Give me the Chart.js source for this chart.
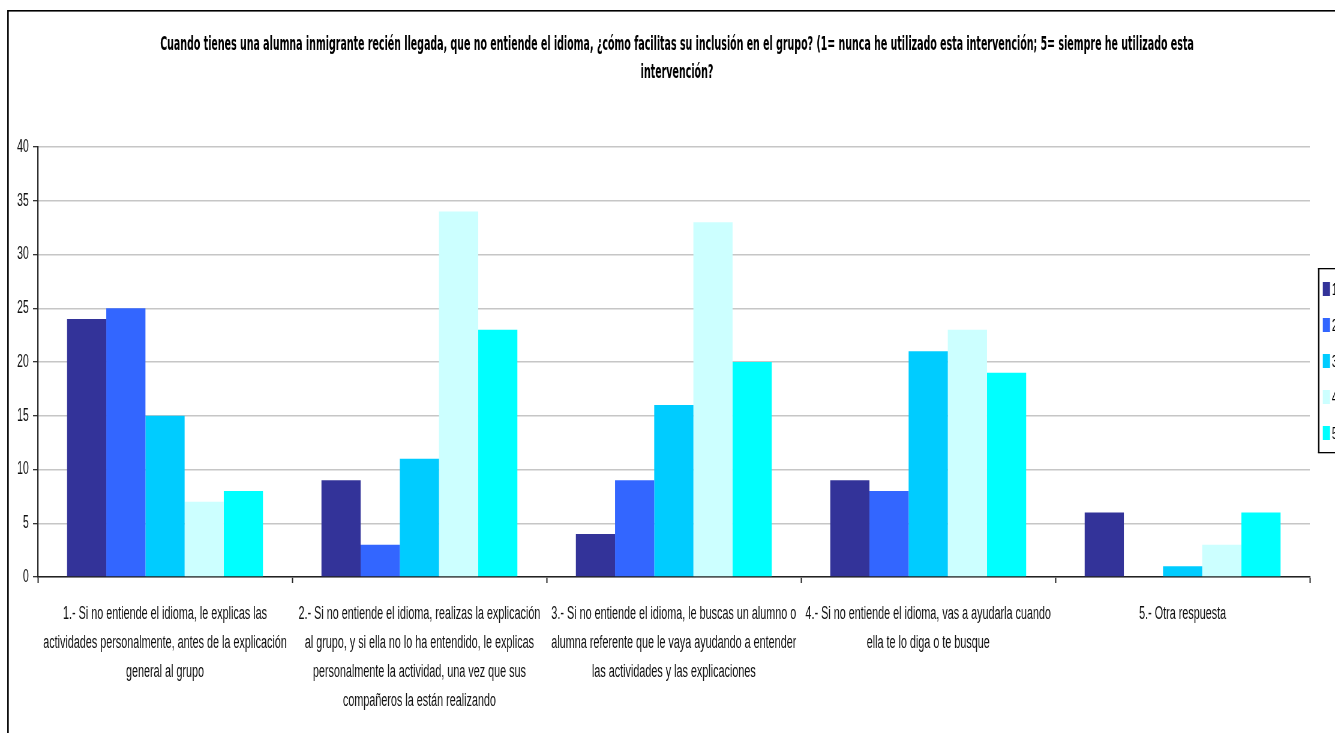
<!DOCTYPE html>
<html>
<head>
<meta charset="utf-8">
<script src="https://cdn.jsdelivr.net/npm/chart.js@4.4.1/dist/chart.umd.min.js"></script>
<style>
  html, body { margin: 0; padding: 0; background: #fff; overflow: hidden; width: 1335px; height: 733px; }
  #wrap { position: absolute; left: 0; top: 0; width: 2225px; height: 733px; transform: scaleX(0.6); transform-origin: 0 0; }
  canvas { display: block; }
</style>
</head>
<body>
<div id="wrap"><canvas id="chart" width="2225" height="733"></canvas></div>
<script>
// The drawing is laid out on a wide canvas and squeezed horizontally (narrow lettering).
const SX = 0.6;

const titleLines = [
  'Cuando tienes una alumna inmigrante recién llegada, que no entiende el idioma, ¿cómo facilitas su inclusión en el grupo? (1= nunca he utilizado esta intervención; 5= siempre he utilizado esta',
  'intervención?'
];

const categories = [
  ['1.- Si no entiende el idioma, le explicas las', 'actividades personalmente, antes de la explicación', 'general al grupo'],
  ['2.- Si no entiende el idioma, realizas la explicación', 'al grupo, y si ella no lo ha entendido, le explicas', 'personalmente la actividad, una vez que sus', 'compañeros la están realizando'],
  ['3.- Si no entiende el idioma, le buscas un alumno o', 'alumna referente que le vaya ayudando a entender', 'las actividades y las explicaciones'],
  ['4.- Si no entiende el idioma, vas a ayudarla cuando', 'ella te lo diga o te busque'],
  ['5.- Otra respuesta']
];

const seriesNames = ['1', '2', '3', '4', '5'];
const answers1 = [24, 9, 4, 9, 6];
const answers2 = [25, 3, 9, 8, 0];
const answers3 = [15, 11, 16, 21, 1];
const answers4 = [7, 34, 33, 23, 3];
const answers5 = [8, 23, 20, 19, 6];
const seriesColors = ['#333399', '#3366FF', '#00CCFF', '#CCFFFF', '#00FFFF'];

const yMin = 0;
const yMax = 40;
const yStep = 5;

const seriesValues = [answers1, answers2, answers3, answers4, answers5];

// Outer frame and the two-line bold title
const framePlugin = {
  id: 'frameAndTitle',
  beforeDraw(chart) {
    const ctx = chart.ctx;
    ctx.save();
    ctx.fillStyle = '#fff';
    ctx.fillRect(0, 0, chart.width, chart.height);
    ctx.fillStyle = '#000';
    ctx.fillRect(12, 10, 2.6, chart.height);
    ctx.fillRect(12, 10, chart.width, 1.6);
    ctx.restore();
  },
  afterDraw(chart) {
    const ctx = chart.ctx;
    ctx.save();
    ctx.fillStyle = '#000';
    ctx.font = 'bold 19.5px "DejaVu Sans", Verdana, sans-serif';
    ctx.textAlign = 'center';
    ctx.textBaseline = 'middle';
    const titleSqueeze = 0.81;
    ctx.translate(677 / SX, 0);
    ctx.scale(titleSqueeze, 1);
    titleLines.forEach((line, i) => ctx.fillText(line, 0, 45 + i * 28));
    ctx.restore();
  }
};

// Boxed legend on the right edge
const legendPlugin = {
  id: 'boxLegend',
  afterDraw(chart) {
    const ctx = chart.ctx;
    const left = 1318 / SX;
    const top = 268, bottom = 453;
    ctx.save();
    ctx.fillStyle = '#000';
    ctx.fillRect(left, top, 2.4, bottom - top);
    ctx.fillRect(left, top, 200, 1.3);
    ctx.fillRect(left, bottom - 1, 200, 1.3);
    ctx.font = '17px "Liberation Sans", Arial, sans-serif';
    ctx.textBaseline = 'middle';
    ctx.textAlign = 'left';
    chart.data.datasets.forEach((ds, i) => {
      const cy = 289 + i * 36;
      ctx.fillStyle = ds.backgroundColor;
      ctx.fillRect(left + 8, cy - 7, 12, 14);
      ctx.fillStyle = '#000';
      ctx.fillText(ds.label, left + 23, cy + 1);
    });
    ctx.restore();
  }
};

new Chart(document.getElementById('chart'), {
  type: 'bar',
  data: {
    labels: categories,
    datasets: seriesNames.map((name, i) => ({
      label: name,
      data: seriesValues[i],
      backgroundColor: seriesColors[i],
      borderWidth: 0,
      categoryPercentage: 0.77,
      barPercentage: 1.0
    }))
  },
  options: {
    responsive: false,
    animation: false,
    devicePixelRatio: 1,
    layout: { padding: { left: 13, right: 42, top: 147, bottom: 6 } },
    plugins: {
      legend: { display: false },
      title: { display: false },
      tooltip: { enabled: false }
    },
    scales: {
      x: {
        grid: {
          display: true,
          offset: true,
          drawOnChartArea: false,
          drawTicks: true,
          tickLength: 6,
          tickColor: '#222',
          tickWidth: 2
        },
        border: { display: true, color: '#222', width: 1.6 },
        ticks: {
          autoSkip: false,
          maxRotation: 0,
          minRotation: 0,
          padding: 16,
          color: '#111',
          font: { family: '"Liberation Sans", Arial, sans-serif', size: 18, lineHeight: 1.62 }
        },
        afterFit(scale) { scale.height = 150; }
      },
      y: {
        min: yMin,
        max: yMax,
        grid: {
          color: '#c6c6c6',
          lineWidth: 1.4,
          tickColor: '#222',
          tickLength: 8,
          tickWidth: 1.2
        },
        border: { display: true, color: '#222', width: 2.2 },
        ticks: {
          stepSize: yStep,
          padding: 7,
          color: '#111',
          font: { family: '"Liberation Sans", Arial, sans-serif', size: 17.5 }
        },
        afterFit(scale) { scale.width = 50; }
      }
    }
  },
  plugins: [framePlugin, legendPlugin]
});
</script>
</body>
</html>
